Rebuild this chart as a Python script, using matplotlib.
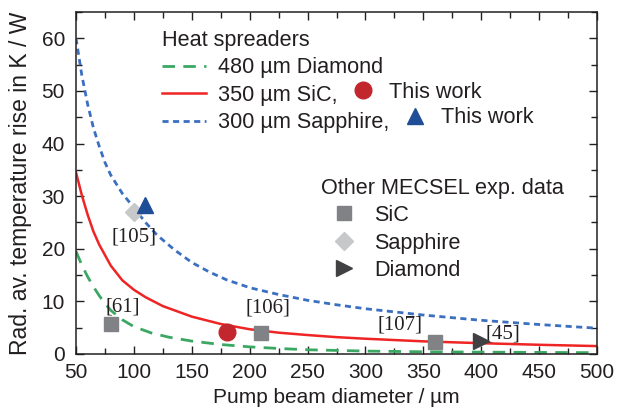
import matplotlib.pyplot as plt
from matplotlib.ticker import MultipleLocator

plt.rcParams['font.family'] = ['Liberation Sans', 'DejaVu Sans']

# simulated curves
dia_x = [50, 55, 60, 65, 70, 75, 80, 90, 100, 115, 130, 150, 175, 200, 225, 250, 300, 350, 400, 450, 500]
dia_y = [19.5, 16.9, 14.7, 12.8, 11.1, 9.6, 8.3, 6.5, 5.2, 4.0, 3.2, 2.45, 1.8, 1.35, 1.05, 0.8, 0.55, 0.42, 0.35, 0.3, 0.25]

sic_x = [50, 55, 60, 65, 70, 80, 90, 100, 110, 125, 150, 175, 200, 225, 250, 275, 300, 350, 400, 450, 500]
sic_y = [34.5, 30.2, 26.5, 23.3, 20.8, 16.8, 14.0, 12.2, 10.8, 9.1, 7.1, 5.7, 4.7, 4.05, 3.6, 3.2, 2.9, 2.4, 2.05, 1.75, 1.5]

sap_x = [50, 55, 60, 65, 70, 75, 80, 90, 100, 110, 120, 135, 150, 165, 180, 200, 225, 250, 275, 300, 350, 400, 450, 500]
sap_y = [60, 53, 47.5, 43, 39.5, 36.4, 34, 30.5, 27.8, 25.0, 22.6, 19.8, 17.4, 15.6, 14.1, 12.6, 11.3, 10.2, 9.35, 8.6, 7.4, 6.4, 5.6, 4.9]

# this work
tw_sic = (180, 4.1)
tw_sap = (110, 28.3)

# other MECSEL data
o_sic_x = [80, 210, 360]
o_sic_y = [5.7, 4.0, 2.2]
o_sap_x = [100]
o_sap_y = [27]
o_dia_x = [400]
o_dia_y = [2.5]

refs = ['[61]', '[105]', '[106]', '[107]', '[45]']
ref_x = [90, 100, 216, 330, 419]
ref_y = [9.0, 22.3, 8.7, 5.5, 3.75]

txt = '#231f20'
fs = 15.6
fig = plt.figure(figsize=(6.17, 4.13), dpi=100)
ax = fig.add_axes([0.1232, 0.1429, 0.8444, 0.8281])

l1, = ax.plot(dia_x, dia_y, color='#3aa862', lw=2, dashes=(4.5, 3), label='480 µm Diamond')
l2, = ax.plot(sic_x, sic_y, color='#ee2524', lw=1.8, label='350 µm SiC,')
l3, = ax.plot(sap_x, sap_y, color='#3b6fc0', lw=2, dashes=(2.2, 1.6), label='300 µm Sapphire,')

p1, = ax.plot([tw_sic[0]], [tw_sic[1]], 'o', color='#c1272d', ms=12, ls='none', label='This work', zorder=5)
p2, = ax.plot([tw_sap[0]], [tw_sap[1]], '^', color='#1f4e96', ms=12, ls='none', label='This work', zorder=5)

s1, = ax.plot(o_sic_x, o_sic_y, 's', color='#808285', ms=10, ls='none', label='SiC', zorder=4)
s2, = ax.plot(o_sap_x, o_sap_y, 'D', color='#c7c8ca', ms=9.5, ls='none', label='Sapphire', zorder=4)
s3, = ax.plot(o_dia_x, o_dia_y, '>', color='#414042', ms=12, ls='none', label='Diamond', zorder=4)

for r, x, y in zip(refs, ref_x, ref_y):
    ax.text(x, y, r, family='Liberation Serif', fontsize=15, color=txt, ha='center', va='center')

ax.set_xlim(50, 500)
ax.set_ylim(0, 65)
ax.xaxis.set_major_locator(MultipleLocator(50))
ax.xaxis.set_minor_locator(MultipleLocator(25))
ax.yaxis.set_major_locator(MultipleLocator(10))
ax.yaxis.set_minor_locator(MultipleLocator(5))
ax.tick_params(which='both', direction='in', top=True, right=True, width=1, colors=txt,
               labelsize=15, labelcolor=txt)
ax.tick_params(axis='x', pad=6.5)
ax.tick_params(axis='y', pad=8)
ax.tick_params(which='major', length=6)
ax.tick_params(which='minor', length=4)
for s in ax.spines.values():
    s.set_linewidth(1.1)
    s.set_color(txt)
ax.set_xlabel('Pump beam diameter / µm', fontsize=15, color=txt, labelpad=4)
ax.set_ylabel('Rad. av. temperature rise in K / W', fontsize=16.5, color=txt)
ax.yaxis.set_label_coords(-0.085, 0.5)

leg1 = ax.legend(handles=[l1, l2, l3], title='Heat spreaders', loc='upper left',
                 bbox_to_anchor=(0.165, 0.9485), frameon=False, fontsize=fs, title_fontsize=fs,
                 alignment='left', handlelength=2.05, handletextpad=0.55, labelspacing=0.3,
                 borderpad=0, borderaxespad=0, labelcolor=txt)
leg1.get_title().set_color(txt)
ax.add_artist(leg1)

leg2 = ax.legend(handles=[p1], loc='center left', bbox_to_anchor=(0.530, 0.766), frameon=False,
                 fontsize=fs, handlelength=1.0, handletextpad=0.7, borderpad=0, borderaxespad=0,
                 labelcolor=txt)
ax.add_artist(leg2)
leg3 = ax.legend(handles=[p2], loc='center left', bbox_to_anchor=(0.630, 0.690), frameon=False,
                 fontsize=fs, handlelength=1.0, handletextpad=0.7, borderpad=0, borderaxespad=0,
                 labelcolor=txt)
ax.add_artist(leg3)

leg4 = ax.legend(handles=[s1, s2, s3], title='Other MECSEL exp. data', loc='upper left',
                 bbox_to_anchor=(0.4697, 0.516), frameon=False, fontsize=fs, title_fontsize=fs,
                 alignment='left', handlelength=2.15, handletextpad=0.3, labelspacing=0.3,
                 borderpad=0, borderaxespad=0, labelcolor=txt)
leg4.get_title().set_color(txt)

fig.savefig('out.png', dpi=100)
